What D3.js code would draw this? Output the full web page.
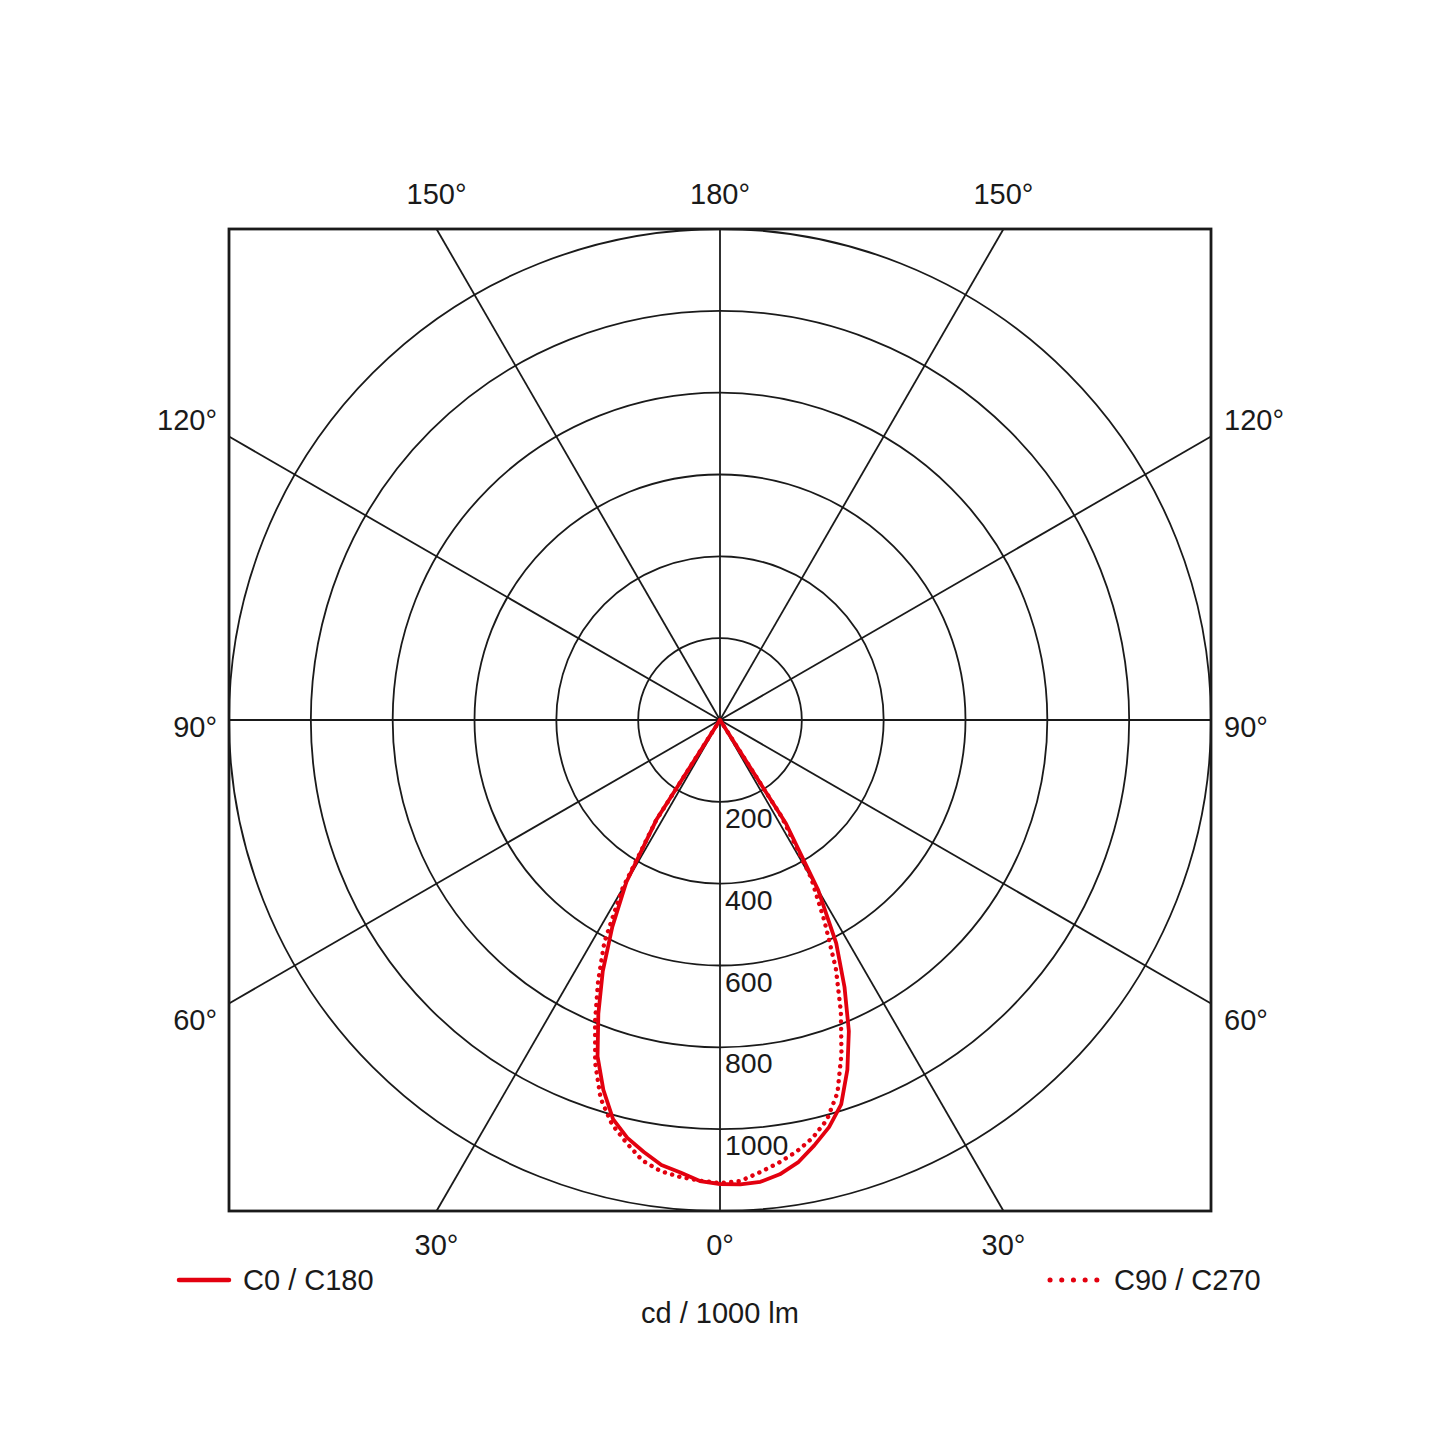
<!DOCTYPE html>
<html>
<head>
<meta charset="utf-8">
<script src="https://cdn.jsdelivr.net/npm/d3@7"></script>
<style>
  html, body { margin: 0; padding: 0; background: #fff; }
  svg { display: block; }
  text { font-family: "Liberation Sans", Arial, Helvetica, sans-serif; fill: #1a1a1a; }
</style>
</head>
<body>
<svg id="chart" width="1440" height="1440"></svg>
<script>
// Gamma angles (degrees from nadir) of the measured intensities
const gammaAngles = [0, 2.5, 5, 7.5, 10, 12.5, 15, 17.5, 20, 22.5, 25, 27.5, 30, 32.5, 35];

// Luminous intensity, cd / 1000 lm
const c0Values   = [1134, 1136, 1133, 1120, 1098, 1065, 1030, 985, 910, 823, 720, 615, 480, 300, 0];
const c180Values = [1134, 1128, 1110, 1097, 1072, 1046, 1010, 948, 875, 777, 678, 570, 458, 290, 0];
const c90Values  = [1132, 1128, 1110, 1092, 1072, 1046, 1011, 955, 868, 772, 670, 552, 445, 280, 0];
const c270Values = [1132, 1127, 1121, 1112, 1093, 1058, 1022, 970, 892, 798, 705, 612, 480, 290, 0];

// Grid rings and their labels
const ringValues = [200, 400, 600, 800, 1000, 1200];
const ringLabels = [200, 400, 600, 800, 1000];
const maxValue = 1200;

// Spoke angles and their tick labels
const spokeAngles = [0, 30, 60, 90, 120, 150, 180, 210, 240, 270, 300, 330];
const bottomTicks = [-30, 0, 30];
const topTicks = [-150, 180, 150];
const sideTicks = [60, 90, 120];

const legendItems = ["C0 / C180", "C90 / C270"];
const unitLabel = "cd / 1000 lm";

const RED = "#e3000f";
const INK = "#1a1a1a";

const cx = 720, cy = 720, R = 491;
const svg = d3.select("#chart");

const r = d3.scaleLinear().domain([0, maxValue]).range([0, R]);
// gamma (deg, 0 = down, positive toward the right) -> radial angle used by d3 (0 = up, clockwise)
const toRad = g => Math.PI - g * Math.PI / 180;

const g = svg.append("g").attr("transform", `translate(${cx},${cy})`);

// rings
g.selectAll("circle.ring").data(ringValues).join("circle")
  .attr("class", "ring")
  .attr("r", d => r(d))
  .attr("fill", "none").attr("stroke", INK).attr("stroke-width", 1.8);

// spokes, clipped at the square frame
const spokeEnd = d => {
  const a = d * Math.PI / 180;
  const k = R / Math.max(Math.abs(Math.sin(a)), Math.abs(Math.cos(a)));
  return [Math.sin(a) * k, Math.cos(a) * k];
};
g.selectAll("line.spoke").data(spokeAngles).join("line")
  .attr("class", "spoke")
  .attr("x1", 0).attr("y1", 0)
  .attr("x2", d => spokeEnd(d)[0])
  .attr("y2", d => spokeEnd(d)[1])
  .attr("stroke", INK).attr("stroke-width", 1.8);

// frame
g.append("rect")
  .attr("x", -R).attr("y", -R).attr("width", 2 * R).attr("height", 2 * R)
  .attr("fill", "none").attr("stroke", INK).attr("stroke-width", 2.8);

// ring labels along the nadir axis
g.selectAll("text.ringlab").data(ringLabels).join("text")
  .attr("class", "ringlab")
  .attr("x", 5)
  .attr("y", d => r(d) + 26)
  .attr("font-size", 28.5)
  .text(d => d);

// polar curves: left half (C180 / C270) then right half (C0 / C90)
function curvePoints(leftVals, rightVals) {
  const pts = [];
  for (let i = gammaAngles.length - 1; i >= 0; i--) pts.push({ g: -gammaAngles[i], v: leftVals[i] });
  for (let i = 1; i < gammaAngles.length; i++) pts.push({ g: gammaAngles[i], v: rightVals[i] });
  return pts;
}
const radial = d3.lineRadial().angle(d => toRad(d.g)).radius(d => r(d.v)).curve(d3.curveLinear);

g.append("path")
  .datum(curvePoints(c270Values, c90Values))
  .attr("d", radial)
  .attr("fill", "none").attr("stroke", RED).attr("stroke-width", 4.4)
  .attr("stroke-linecap", "round").attr("stroke-dasharray", "0.1,7.4");

g.append("path")
  .datum(curvePoints(c180Values, c0Values))
  .attr("d", radial)
  .attr("fill", "none").attr("stroke", RED).attr("stroke-width", 3.8)
  .attr("stroke-linejoin", "round");

// angle labels
const tickFont = 29;
function addLabel(x, y, txt, anchor) {
  svg.append("text").attr("x", x).attr("y", y).attr("text-anchor", anchor)
    .attr("font-size", tickFont).text(txt);
}
const deg = v => Math.abs(v) + "\u00B0";
bottomTicks.forEach(t => addLabel(cx + Math.tan(t * Math.PI / 180) * R, cy + R + 44, deg(t), "middle"));
topTicks.forEach(t => {
  const off = t === 180 ? 0 : Math.tan((180 - Math.abs(t)) * Math.PI / 180) * R * Math.sign(t);
  addLabel(cx + off, cy - R - 25, deg(t), "middle");
});
sideTicks.forEach(t => {
  const yEnd = cy + R / Math.tan(t * Math.PI / 180);
  const shift = t === 90 ? 7 : (t < 90 ? 17 : -17);
  const y = yEnd + shift + 10;
  addLabel(cx - R - 12, y, deg(t), "end");
  addLabel(cx + R + 13, y, deg(t), "start");
});

// legend
const legY = 1280;
svg.append("line").attr("x1", 179).attr("x2", 229).attr("y1", legY).attr("y2", legY)
  .attr("stroke", RED).attr("stroke-width", 4.5).attr("stroke-linecap", "round");
addLabel(243, legY + 10, legendItems[0], "start");
svg.append("line").attr("x1", 1050).attr("x2", 1100).attr("y1", legY).attr("y2", legY)
  .attr("stroke", RED).attr("stroke-width", 5).attr("stroke-linecap", "round")
  .attr("stroke-dasharray", "0.1,11.6");
addLabel(1114, legY + 10, legendItems[1], "start");
addLabel(cx, 1323, unitLabel, "middle");
</script>
</body>
</html>
